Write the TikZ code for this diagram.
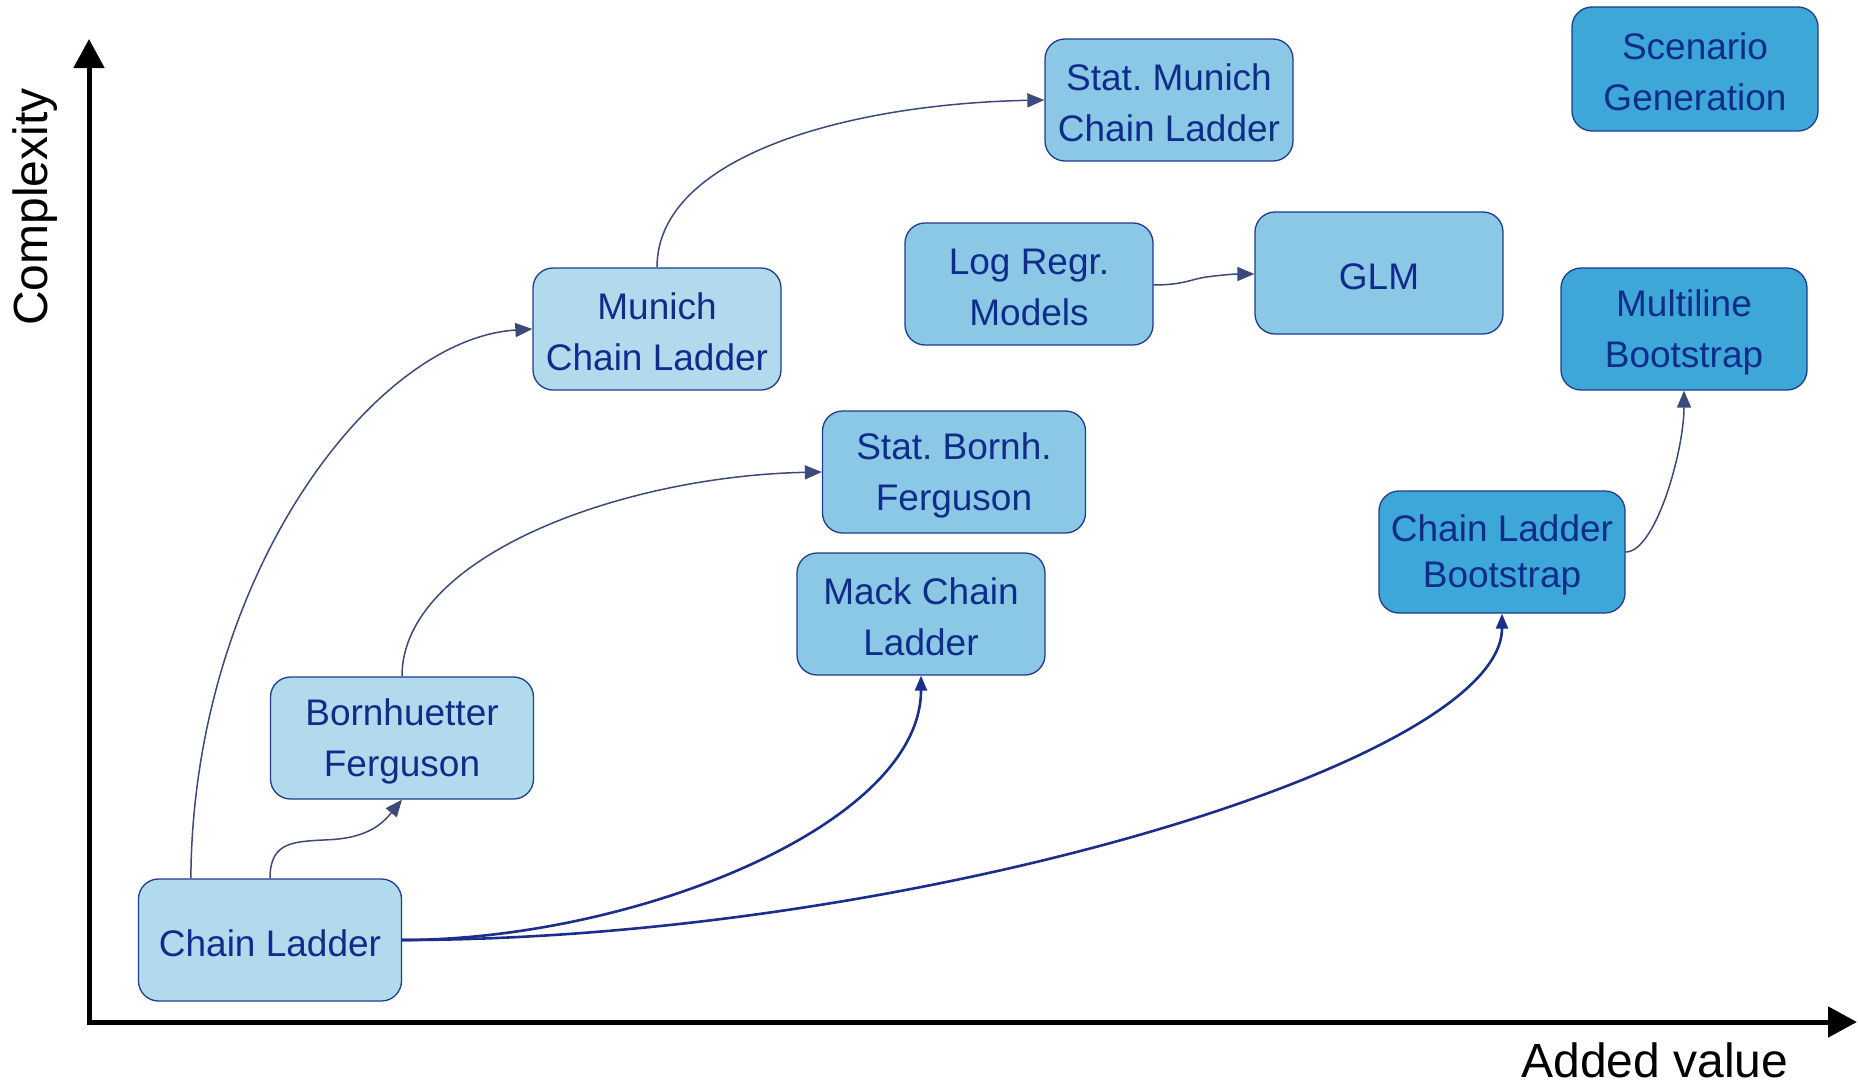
\documentclass[tikz,border=0pt]{standalone}
\usepackage{fontspec}
\setmainfont{Liberation Sans}
\usetikzlibrary{arrows.meta}
\frenchspacing
\newcommand\firststrut{\rule{0pt}{33pt}}
\definecolor{boxlight}{HTML}{B1DAEC}
\definecolor{boxmid}{HTML}{8AC8E5}
\definecolor{boxdark}{HTML}{3DA8D7}
\definecolor{boxborder}{HTML}{1F3C8F}
\definecolor{txtblue}{HTML}{102C8A}
\definecolor{thinline}{HTML}{3B4A78}
\definecolor{thickline}{HTML}{1A2E8A}
\tikzset{
  method/.style={draw=boxborder, line width=1.3pt, rounded corners=20pt, align=center,
    text=txtblue, font=\fontsize{37}{51}\selectfont, minimum height=122pt, inner sep=0pt},
  lightbox/.style={method, fill=boxlight},
  midbox/.style={method, fill=boxmid},
  darkbox/.style={method, fill=boxdark},
  thinarrow/.style={draw=thinline, line width=1.5pt, -{Triangle[length=17pt,width=14pt]}},
  thickarrow/.style={draw=thickline, line width=2.6pt, -{Triangle[length=15pt,width=12pt]}},
  axis/.style={draw=black, line width=5pt, -{Triangle[length=29pt,width=30pt]}},
  axislabel/.style={font=\fontsize{48}{56}\selectfont, text=black, inner sep=0pt}
}
\begin{document}
\begin{tikzpicture}[x=1pt, y=-1pt]
\useasboundingbox (0,0) rectangle (1858,1084);
% axes
\coordinate (origin) at (89,1022);
\coordinate (ytip) at (89,39);
\coordinate (xtip) at (1857,1022);
\draw[axis] (origin) -- (ytip);
\draw[axis] ([xshift=-2.5pt]origin) -- (xtip);
\node[axislabel, rotate=90] (ylab) at (35,207) {Complexity};
\node[axislabel] (xlab) at (1655,1060) {Added value};
% nodes
\node[lightbox, minimum width=263pt] (cl) at (270,940) {\firststrut Chain Ladder};
\node[lightbox, minimum width=263pt] (bf) at (402,738) {\firststrut Bornhuetter\\Ferguson};
\node[lightbox, minimum width=248pt] (mcl) at (657,329) {\firststrut Munich\\Chain Ladder};
\node[midbox, minimum width=248pt] (smcl) at (1169,100) {\firststrut Stat. Munich\\Chain Ladder};
\node[midbox, minimum width=248pt] (lrm) at (1029,284) {\firststrut Log Regr.\\Models};
\node[midbox, minimum width=248pt] (glm) at (1379,273) {\firststrut GLM};
\node[midbox, minimum width=263pt] (sbf) at (954,472) {\firststrut Stat. Bornh.\\Ferguson};
\node[midbox, minimum width=248pt] (mack) at (921,614) {\firststrut Mack Chain\\Ladder};
\node[darkbox, minimum width=246pt, font=\fontsize{37}{46}\selectfont] (clb) at (1502,552) {\firststrut Chain Ladder\\Bootstrap};
\node[darkbox, minimum width=246pt] (mlb) at (1684,329) {\firststrut Multiline\\Bootstrap};
\node[darkbox, minimum width=246pt, minimum height=124pt] (scen) at (1695,69) {\firststrut Scenario\\Generation};
% connectors
\draw[thinarrow] ([xshift=53pt]cl.north west) .. controls +(2,-300) and +(-160,10) .. (mcl.west);
\draw[thinarrow] (cl.north) .. controls +(0,-38) and +(-35,2) .. ([xshift=-72pt,yshift=-40pt]bf.south)
  .. controls +(40,-2) and +(-18,22) .. (bf.south);
\draw[thinarrow] (bf.north) .. controls +(0,-120) and +(-200,4) .. (sbf.west);
\draw[thinarrow] (mcl.north) .. controls +(0,-110) and +(-200,4) .. (smcl.west);
\draw[thinarrow] ([yshift=-1pt]lrm.east) .. controls +(30,0) and +(-15,2) .. ([xshift=-48pt,yshift=-4pt]glm.west)
  .. controls +(15,-2) and +(-20,0) .. ([yshift=-1pt]glm.west);
\draw[thinarrow] (clb.east) .. controls +(30,0) and +(0,60) .. (mlb.south);
\draw[thickarrow] (cl.east) .. controls +(230,0) and +(0,150) .. (mack.south);
\draw[thickarrow] (cl.east) .. controls +(500,0) and +(0,150) .. (clb.south);
\end{tikzpicture}
\end{document}
